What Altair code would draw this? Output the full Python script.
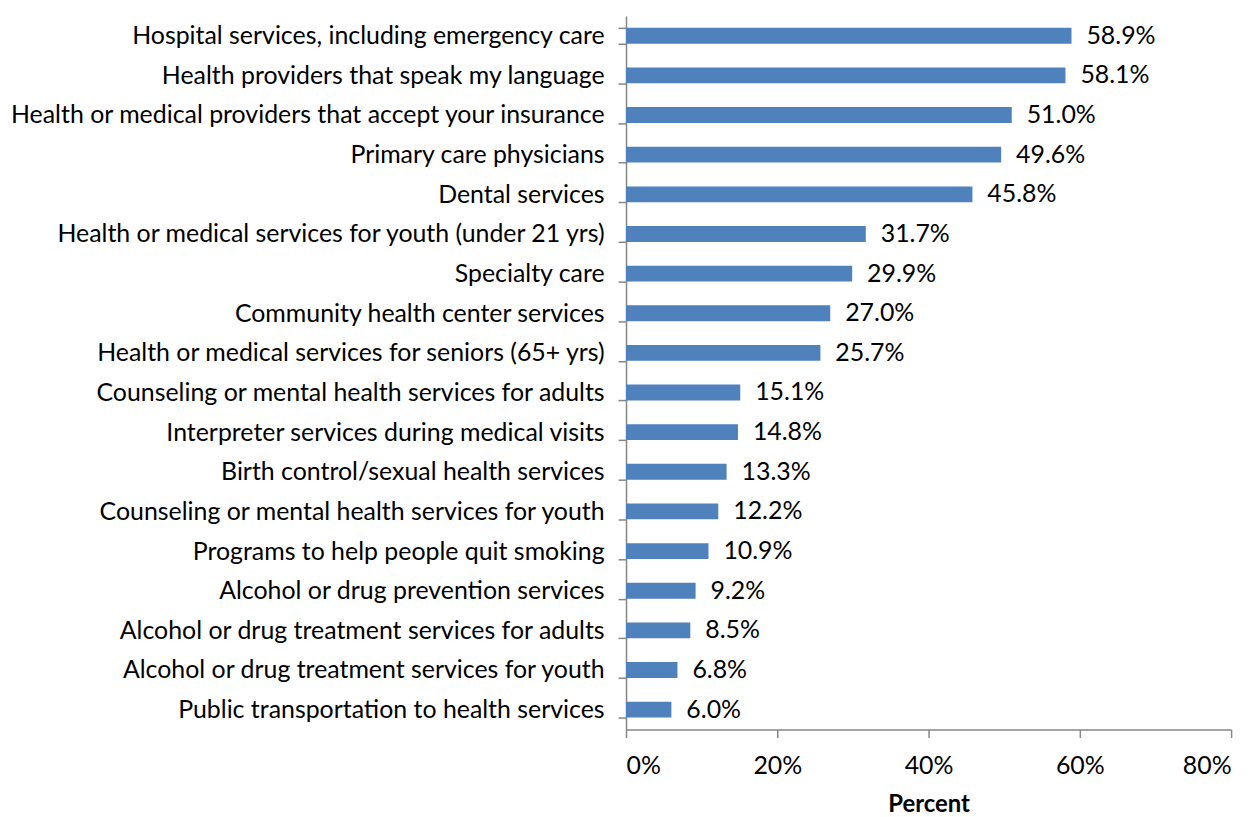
import altair as alt
import pandas as pd

categories = [
    "Hospital services, including emergency care",
    "Health providers that speak my language",
    "Health or medical providers that accept your insurance",
    "Primary care physicians",
    "Dental services",
    "Health or medical services for youth (under 21 yrs)",
    "Specialty care",
    "Community health center services",
    "Health or medical services for seniors (65+ yrs)",
    "Counseling or mental health services for adults",
    "Interpreter services during medical visits",
    "Birth control/sexual health services",
    "Counseling or mental health services for youth",
    "Programs to help people quit smoking",
    "Alcohol or drug prevention services",
    "Alcohol or drug treatment services for adults",
    "Alcohol or drug treatment services for youth",
    "Public transportation to health services",
]
values = [58.9, 58.1, 51.0, 49.6, 45.8, 31.7, 29.9, 27.0, 25.7, 15.1, 14.8, 13.3, 12.2, 10.9, 9.2, 8.5, 6.8, 6.0]

df = pd.DataFrame({"cat": categories, "val": [v / 100 for v in values]})

FONT = "Lato"
FS = 25
AX = "#868686"

y = alt.Y("cat:N", sort=categories, title=None,
          scale=alt.Scale(paddingInner=0.6, paddingOuter=0.3),
          axis=alt.Axis(tickBand="extent", labelFontSize=FS, labelFont=FONT, labelColor="black",
                        labelPadding=14, labelLimit=800, domainColor=AX, tickColor=AX, tickSize=8,
                        domainWidth=1.5, tickWidth=1.5))
x = alt.X("val:Q", title="Percent",
          scale=alt.Scale(domain=[0, 0.8], nice=False),
          axis=alt.Axis(format="%", values=[0, 0.2, 0.4, 0.6, 0.8], grid=False,
                        labelFontSize=FS, labelFont=FONT, labelColor="black", labelPadding=16,
                        domainColor=AX, tickColor=AX, tickSize=8, domainWidth=1.5, tickWidth=1.5,
                        titleFontSize=24, titleFont=FONT, titleFontWeight="bold", titlePadding=14,
                        titleColor="black"))

bars = alt.Chart(df).mark_bar(color="#4F81BD").encode(x=x, y=y)
labels = alt.Chart(df).mark_text(align="left", dx=15, fontSize=FS, font=FONT, color="black").encode(
    x="val:Q", y=alt.Y("cat:N", sort=categories), text=alt.Text("val:Q", format=".1%"))

chart = (bars + labels).properties(
    width=608, height=717,
    padding={"left": 0, "top": -6, "right": 20, "bottom": 0},
).configure_view(stroke=None)

chart.save("out.html", embed_options={"renderer": "svg", "actions": False})
